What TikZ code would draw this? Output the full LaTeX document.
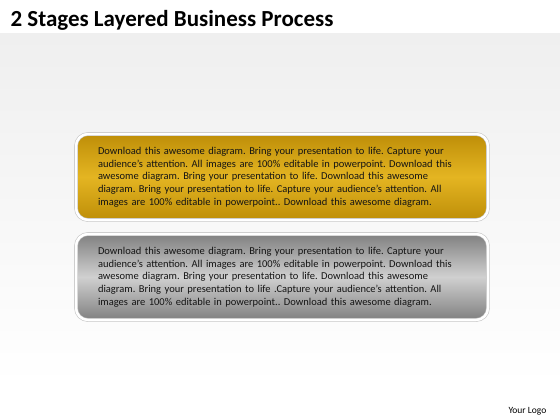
\documentclass[tikz,border=0pt]{standalone}
\usepackage{fontspec}
\setmainfont{Carlito}
\usetikzlibrary{shadows}
\frenchspacing

\definecolor{goldedge}{HTML}{BE8E08}
\definecolor{goldmid}{HTML}{E4B522}
\definecolor{grayedge}{HTML}{808080}
\definecolor{graymid}{HTML}{D0D0D0}
\definecolor{bandgray}{HTML}{EFEFEF}

\tikzset{
  stagebox/.style={rounded corners=12pt, minimum width=412pt, minimum height=86pt,
    text width=368pt, align=left, inner sep=0pt,
    draw=black!22, double=white, double distance=2.5pt, line width=0.6pt,
    drop shadow={shadow xshift=0pt, shadow yshift=-1.5pt, opacity=0.25},
    font=\fontsize{10.5}{12.7}\selectfont, text=black!92},
  goldbox/.style={stagebox, top color=goldedge, bottom color=goldedge, middle color=goldmid},
  graybox/.style={stagebox, top color=grayedge, bottom color=grayedge, middle color=graymid},
}

\begin{document}
\begin{tikzpicture}[x=1pt,y=1pt]
\useasboundingbox (0,0) rectangle (560,-420);
	\fill[white] (0,0) rectangle (560,-420);
	\shade[top color=bandgray, bottom color=white] (0,-34) rectangle (560,-385);

	\node[anchor=base west, font=\bfseries\fontsize{23}{26}\selectfont] (title) at (7,-27)
	  {2 Stages Layered Business Process};

	% stage one
	\node[goldbox] (stageone) at (282,-177) {Download this awesome diagram. Bring your presentation to life. Capture your\\
audience’s attention.  All images are 100\% editable in powerpoint. Download this\\
awesome diagram. Bring your presentation to life. Download this awesome\\
diagram. Bring your presentation to life. Capture your audience’s attention. All\\
images are 100\% editable in powerpoint.. Download this awesome diagram.};

	% stage two
	\node[graybox] (stagetwo) at (282,-277) {Download this awesome diagram. Bring your presentation to life. Capture your\\
audience’s attention.  All images are 100\% editable in powerpoint. Download this\\
awesome diagram. Bring your presentation to life. Download this awesome\\
diagram. Bring your presentation to life .Capture your audience’s attention. All\\
images are 100\% editable in powerpoint.. Download this awesome diagram.};

	\node[anchor=base west, font=\fontsize{9.5}{11}\selectfont] (logo) at (505,-413) {Your Logo};
\end{tikzpicture}
\end{document}
